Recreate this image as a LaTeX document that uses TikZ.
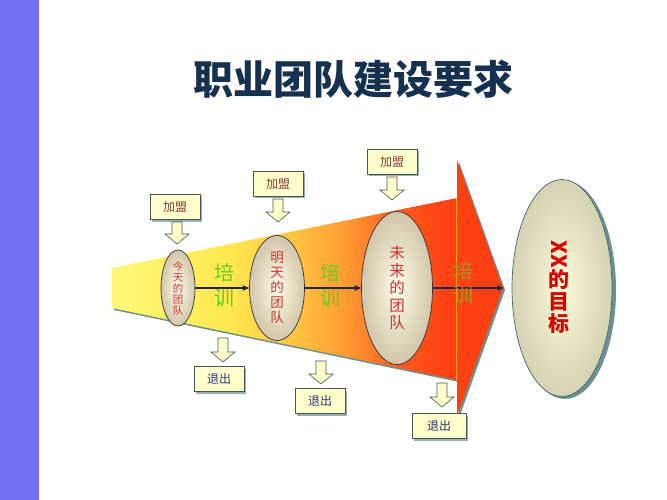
\documentclass[tikz,border=0pt]{standalone}
\usepackage{fontspec}
\newfontfamily\cjk{Noto Sans CJK SC}
\usetikzlibrary{shapes.geometric,arrows.meta,shadings}
\definecolor{band}{HTML}{7070F0}
\definecolor{titlec}{HTML}{16304F}
\definecolor{boxfill}{HTML}{FFFFCC}
\definecolor{boxline}{HTML}{4A5555}
\definecolor{shadowc}{HTML}{6A9090}
\definecolor{joinc}{HTML}{8A3A3A}
\definecolor{quitc}{HTML}{2E3470}
\definecolor{teamc}{HTML}{CC3333}
\definecolor{trainc}{HTML}{66CC22}
\definecolor{trainc2}{HTML}{9C9A22}
\definecolor{connc}{HTML}{1C2450}
\definecolor{fa}{HTML}{FFF878}
\definecolor{fb}{HTML}{FFE850}
\definecolor{fc}{HTML}{FFC040}
\definecolor{fd}{HTML}{FF9A32}
\definecolor{fe}{HTML}{FF5A1C}
\definecolor{ff}{HTML}{FF4012}
\definecolor{ecream}{HTML}{FFFDEA}
\definecolor{etan}{HTML}{D2C6AA}
\definecolor{gcream}{HTML}{FCFAD8}
\definecolor{gtan}{HTML}{D6D2B4}
\pgfdeclarehorizontalshading{funnelshade}{100bp}{color(0bp)=(fa); color(25bp)=(fa); color(40bp)=(fb); color(49bp)=(fc); color(55bp)=(fd); color(62bp)=(fe); color(68bp)=(ff); color(100bp)=(ff)}
\tikzset{
  infobox/.style={draw=boxline, fill=boxfill, line width=0.6pt, minimum width=50pt, minimum height=25pt, inner sep=0pt, font=\cjk\fontsize{12}{12}\selectfont},
  boxshadow/.style={fill=shadowc!70, minimum width=50pt, minimum height=25pt, inner sep=0pt},
  team/.style={ellipse, draw=black!80, line width=0.7pt, inner sep=0pt, shade, inner color=ecream, outer color=etan, text=teamc, align=center},
  train/.style={text=trainc, align=center, font=\cjk\fontsize{20}{25}\selectfont},
  conn/.style={draw=connc, line width=1.6pt, -{Stealth[length=7pt,width=6pt]}},
  blockarrow/.style={draw=boxline, fill=boxfill, line width=0.6pt, line join=miter}
}
\newcommand{\myblockdown}[3]{%
  \draw[blockarrow] (#1-5,#2) -- (#1+5,#2) -- (#1+5,#3-10) -- (#1+12,#3-10) -- (#1,#3) -- (#1-12,#3-10) -- (#1-5,#3-10) -- cycle;}
\begin{document}
\begin{tikzpicture}[x=1pt,y=-1pt]
\useasboundingbox (0,0) rectangle (667,500);
\fill[white] (0,0) rectangle (667,500);
\fill[band] (0,0) rectangle (39,500);
% title
\node[text=titlec, font=\cjk\bfseries\fontsize{40}{40}\selectfont] (title) at (353,79) {职业团队建设要求};
% funnel shadow
\fill[shadowc] (114,270) -- (459,200) -- (459,162) -- (505,290) -- (459,418) -- (459,382) -- (114,310) -- cycle;
% funnel + arrow head
\shade[shading=funnelshade] (112,268) -- (457,198) -- (457,160) -- (503,288) -- (457,416) -- (457,380) -- (112,308) -- cycle;
\draw[orange!70!yellow, line width=0.4pt] (456,198) -- (456,380);
% goal ellipse shadow
\fill[shadowc] (565,290) ellipse (51pt and 109pt);
% ellipses
\node[team, minimum width=34pt, minimum height=63pt, font=\cjk\fontsize{10.5}{11}\selectfont] (e1) at (178,288) {今\\天\\的\\团\\队};
\node[team, minimum width=55pt, minimum height=105pt, font=\cjk\fontsize{13.5}{15}\selectfont] (e2) at (277,288) {明\\天\\的\\团\\队};
\node[team, minimum width=71pt, minimum height=153pt, font=\cjk\fontsize{15.5}{17.5}\selectfont] (e3) at (397,288) {未\\来\\的\\团\\队};
\node[team, draw=shadowc!70!black, inner color=gcream, outer color=gtan, minimum width=100pt, minimum height=217pt] (e4) at (562,288) {};
\node[text=red!85!black, rotate=-90, inner sep=1pt, font=\cjk\bfseries\fontsize{21}{21}\selectfont] (xx) at (559,254) {XX};
\node[text=red!85!black, align=center, font=\cjk\bfseries\fontsize{21}{22}\selectfont] (goal) at (559,302) {的\\目\\标};
% connectors
\draw[conn] (e1.east) -- (e2.west);
\draw[conn] (e2.east) -- (e3.west);
\draw[conn] (e3.east) -- ([xshift=-8pt]e4.west);
% training labels
\node[train] (t1) at (224,285) {培\\训};
\node[train] (t2) at (330,285) {培\\训};
\node[train, text=trainc2] (t3) at (463,283) {培\\训};
% join boxes
\node[boxshadow] at (177,209) {};
\node[infobox, text=joinc] (j1) at (175,207) {加盟};
\node[boxshadow] at (280,186) {};
\node[infobox, text=joinc] (j2) at (278,184) {加盟};
\node[boxshadow] at (394,164) {};
\node[infobox, text=joinc] (j3) at (392,162) {加盟};
\myblockdown{177}{222}{244}
\myblockdown{278}{199}{222}
\myblockdown{392}{177}{200}
% quit boxes
\myblockdown{223}{338}{362}
\myblockdown{321}{361}{384}
\myblockdown{442}{383}{407}
\node[boxshadow] at (221,381) {};
\node[infobox, text=quitc] (q1) at (219,379) {退出};
\node[boxshadow] at (322,403) {};
\node[infobox, text=quitc] (q2) at (320,401) {退出};
\node[boxshadow, minimum width=54pt] at (441,428) {};
\node[infobox, text=quitc, minimum width=54pt] (q3) at (439,426) {退出};
\end{tikzpicture}
\end{document}
